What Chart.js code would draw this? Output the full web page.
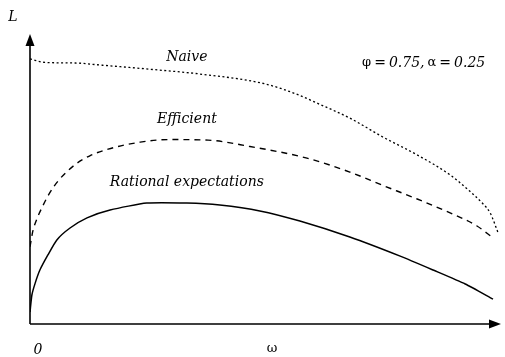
<!DOCTYPE html>
<html>
<head>
<meta charset="utf-8">
<script src="https://cdn.jsdelivr.net/npm/chart.js@4/dist/chart.umd.min.js"></script>
<style>
  html, body { margin: 0; padding: 0; background: #fff; }
  #wrap { width: 505px; height: 357px; }
</style>
</head>
<body>
<div id="wrap"><canvas id="c"></canvas></div>
<script>
// ω on the horizontal axis (0..1), L on the vertical axis (0..1)
const naiveOmega = [0, 0.032, 0.096, 0.149, 0.272, 0.361, 0.499, 0.570, 0.609, 0.679, 0.749, 0.822, 0.892, 0.928, 0.962, 0.977, 0.994];
const naiveL     = [0.914, 0.902, 0.900, 0.893, 0.876, 0.862, 0.828, 0.790, 0.762, 0.710, 0.645, 0.583, 0.514, 0.466, 0.414, 0.383, 0.314];

const efficientOmega = [0, 0.006, 0.015, 0.025, 0.040, 0.059, 0.096, 0.127, 0.166, 0.234, 0.297, 0.378, 0.467, 0.588, 0.679, 0.749, 0.822, 0.892, 0.949, 0.983];
const efficientL     = [0.266, 0.320, 0.364, 0.400, 0.447, 0.492, 0.550, 0.580, 0.603, 0.627, 0.636, 0.634, 0.612, 0.572, 0.524, 0.478, 0.431, 0.383, 0.338, 0.297];

const rationalOmega = [0, 0.004, 0.011, 0.021, 0.038, 0.057, 0.085, 0.121, 0.170, 0.248, 0.333, 0.403, 0.488, 0.573, 0.679, 0.786, 0.856, 0.924, 0.983];
const rationalL     = [0.041, 0.100, 0.141, 0.186, 0.238, 0.290, 0.331, 0.366, 0.393, 0.417, 0.417, 0.410, 0.390, 0.355, 0.300, 0.234, 0.186, 0.138, 0.086];

// curve captions: text, ω, L (centre of the text)
const captions = [
  { text: 'Naive',                 omega: 0.333, L: 0.921 },
  { text: 'Efficient',             omega: 0.333, L: 0.707 },
  { text: 'Rational expectations', omega: 0.333, L: 0.490 }
];

const toPoints = (xs, ys) => xs.map((x, i) => ({ x: x, y: ys[i] }));

const ITALIC = 'italic 14px "DejaVu Serif", serif';
const UPRIGHT = '13px "DejaVu Serif", serif';

// axes with arrowheads and all text annotations
const axesPlugin = {
  id: 'axes',
  afterDatasetsDraw(chart) {
    const { ctx, scales: { x, y } } = chart;
    const x0 = x.getPixelForValue(0), x1 = x.getPixelForValue(1);
    const y0 = y.getPixelForValue(0), y1 = y.getPixelForValue(1);
    ctx.save();
    ctx.strokeStyle = '#000';
    ctx.fillStyle = '#000';
    ctx.lineWidth = 1.6;
    ctx.setLineDash([]);
    ctx.beginPath();
    ctx.moveTo(x0, y0); ctx.lineTo(x0, y1 + 8);
    ctx.moveTo(x0, y0); ctx.lineTo(x1 - 8, y0);
    ctx.stroke();
    // arrowheads
    ctx.beginPath();
    ctx.moveTo(x0, y1); ctx.lineTo(x0 - 4.5, y1 + 12); ctx.lineTo(x0 + 4.5, y1 + 12); ctx.closePath();
    ctx.fill();
    ctx.beginPath();
    ctx.moveTo(x1, y0); ctx.lineTo(x1 - 12, y0 - 4.5); ctx.lineTo(x1 - 12, y0 + 4.5); ctx.closePath();
    ctx.fill();

    ctx.textBaseline = 'middle';
    ctx.textAlign = 'center';
    ctx.font = ITALIC;
    captions.forEach(c => ctx.fillText(c.text, x.getPixelForValue(c.omega), y.getPixelForValue(c.L)));

    // axis names and origin
    ctx.fillText('L', x0 - 17, y1 - 17);
    ctx.fillText('0', x0 + 8, y0 + 26);
    ctx.font = UPRIGHT;
    ctx.fillText('ω', x.getPixelForValue(0.514), y0 + 25);

    // parameter note, pieces laid out with tight spacing
    const parts = [
      ['φ', UPRIGHT, 3], ['=', ITALIC, 3], ['0.75,', ITALIC, 3], ['α', UPRIGHT, 3], ['=', ITALIC, 3], ['0.25', ITALIC, 0]
    ];
    ctx.textAlign = 'left';
    let px = x.getPixelForValue(0.705);
    const py = y.getPixelForValue(0.9);
    parts.forEach(([t, f, gap]) => { ctx.font = f; ctx.fillText(t, px, py); px += ctx.measureText(t).width + gap; });
    ctx.restore();
  }
};

new Chart(document.getElementById('c'), {
  type: 'line',
  data: {
    datasets: [
      { label: 'Naive', data: toPoints(naiveOmega, naiveL), borderColor: '#000', borderWidth: 1.3, borderDash: [2, 2.5], cubicInterpolationMode: 'monotone' },
      { label: 'Efficient', data: toPoints(efficientOmega, efficientL), borderColor: '#000', borderWidth: 1.4, borderDash: [6, 5], cubicInterpolationMode: 'monotone' },
      { label: 'Rational expectations', data: toPoints(rationalOmega, rationalL), borderColor: '#000', borderWidth: 1.5, tension: 0.2 }
    ]
  },
  options: {
    responsive: true,
    maintainAspectRatio: false,
    animation: false,
    layout: { padding: { left: 30, right: 4, top: 34, bottom: 33 } },
    elements: { point: { radius: 0 } },
    plugins: { legend: { display: false }, tooltip: { enabled: false } },
    scales: {
      x: { type: 'linear', min: 0, max: 1, display: false },
      y: { type: 'linear', min: 0, max: 1, display: false }
    }
  },
  plugins: [axesPlugin]
});
</script>
</body>
</html>
